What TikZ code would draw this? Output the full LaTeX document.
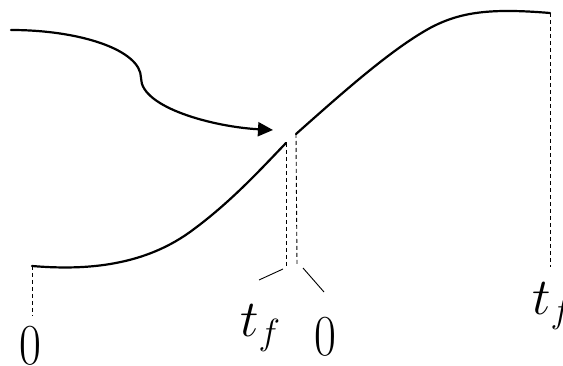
\RequirePackage{fix-cm}
\documentclass[tikz,border=0pt]{standalone}
\usetikzlibrary{arrows.meta}
\newcommand{\narrowzero}{\scalebox{0.82}[1]{0}}
\begin{document}
\begin{tikzpicture}[x=1pt,y=-1pt,
  curve/.style={line width=2.2pt,line cap=round},
  guide/.style={line width=0.9pt,dash pattern=on 4pt off 3pt},
  tick/.style={line width=0.9pt},
  lbl/.style={inner sep=0pt,font=\fontsize{52}{60}\selectfont},
  zlbl/.style={inner sep=0pt,font=\fontsize{58}{66}\selectfont}]
\useasboundingbox (0,0) rectangle (563,366);
% key points
\coordinate (aS) at (11,30);
\coordinate (aM) at (141,78);
\coordinate (aE) at (273,130);
\coordinate (lS) at (32,266);
\coordinate (lM) at (190,232);
\coordinate (lE) at (286,143);
\coordinate (uS) at (296,134);
\coordinate (uM) at (430,28);
\coordinate (uE) at (550,13);
\coordinate (lB) at (32,316);
\coordinate (mL) at (286,266);
\coordinate (mR) at (297,266);
\coordinate (rB) at (550,267);
\coordinate (t1a) at (259,280);
\coordinate (t1b) at (283,269);
\coordinate (t2a) at (303,268);
\coordinate (t2b) at (324,292);
% curves
\draw[curve,-{Triangle[length=15pt,width=14pt]}] (aS) .. controls (80,30) and (141,50) .. (aM)
  .. controls (141,108) and (215,127) .. (aE);
\draw[curve] (lS) .. controls (80,270) and (140,268) .. (lM)
  .. controls (230,203) and (260,170) .. (lE);
\draw[curve] (uS) .. controls (340,95) and (390,50) .. (uM)
  .. controls (460,12) and (490,8) .. (uE);
% dashed guides
\draw[guide] (lS) -- (lB);
\draw[guide] (lE) -- (mL);
\draw[guide] (uS) -- (mR);
\draw[guide] (uE) -- (rB);
% ticks
\draw[tick] (t1a) -- (t1b);
\draw[tick] (t2a) -- (t2b);
% labels
\node[zlbl,anchor=base] (z1) at (30,365) {\narrowzero};
\node[lbl,anchor=base west] (tf1) at (240,337) {$t_f$};
\node[zlbl,anchor=base] (z2) at (325,356) {\narrowzero};
\node[lbl,anchor=base west] (tf2) at (532,315) {$t_f$};
\end{tikzpicture}
\end{document}
